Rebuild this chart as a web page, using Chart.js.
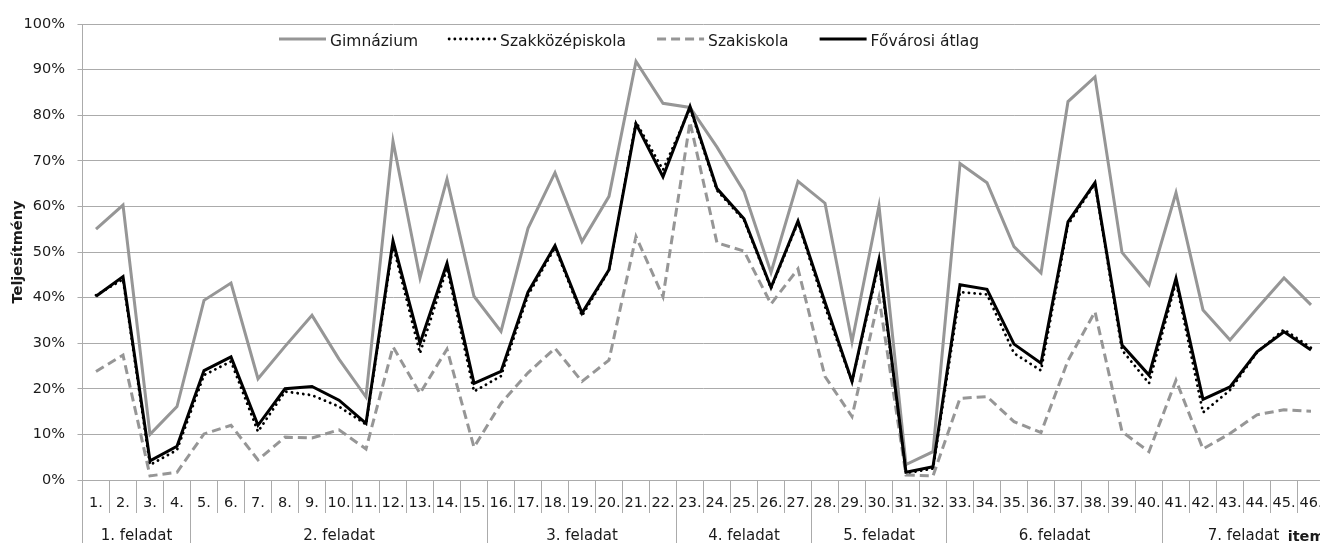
<!DOCTYPE html>
<html>
<head>
<meta charset="utf-8">
<script src="https://cdn.jsdelivr.net/npm/chart.js@4.4.1/dist/chart.umd.min.js"></script>
<style>
  html, body { margin: 0; padding: 0; background: #ffffff; overflow: hidden; }
  body { width: 1320px; height: 543px; }
  #wrap { width: 1326px; height: 543px; position: relative; }
</style>
</head>
<body>
<div id="wrap"><canvas id="c"></canvas></div>
<script>
// ---- data ----
const itemLabels = ['1.','2.','3.','4.','5.','6.','7.','8.','9.','10.','11.','12.','13.','14.','15.','16.','17.','18.','19.','20.','21.','22.','23.','24.','25.','26.','27.','28.','29.','30.','31.','32.','33.','34.','35.','36.','37.','38.','39.','40.','41.','42.','43.','44.','45.','46.'];
const groupLabels = ['1. feladat','2. feladat','3. feladat','4. feladat','5. feladat','6. feladat','7. feladat'];
const groupSizes = [4, 11, 7, 5, 5, 8, 6];
const seriesNames = ['Gimnázium','Szakközépiskola','Szakiskola','Fővárosi átlag'];
const gimnazium = [55, 60.3, 10, 16.1, 39.4, 43.2, 22.2, 29.3, 36.1, 26.5, 18.2, 74.3, 44.3, 66, 40.3, 32.6, 55.2, 67.4, 52.3, 62.2, 91.8, 82.6, 81.7, 73, 63.3, 45.5, 65.5, 60.7, 30.3, 60.1, 3.4, 6.2, 69.4, 65.2, 51.2, 45.4, 83, 88.4, 49.9, 42.8, 63, 37.3, 30.7, 37.6, 44.3, 38.4];
const szakkozep = [40.5, 44, 3.3, 6.6, 23, 26, 10.6, 19.4, 18.6, 16.1, 12.2, 51.5, 27.8, 46.5, 19.4, 22.8, 40.5, 51, 36, 46, 78.5, 68, 81.5, 63.5, 57, 42, 56.5, 38, 21.5, 47.5, 1.5, 2.5, 41.2, 40.7, 27.8, 24, 56, 65, 28.5, 21.2, 43.5, 14.8, 19.7, 28, 33, 29];
const szakiskola = [23.8, 27.4, 0.9, 1.7, 10.1, 12, 4.4, 9.4, 9.2, 11, 6.8, 29.2, 19, 28.7, 7.2, 16.8, 23.5, 28.9, 21.6, 26.3, 53.4, 40.2, 78.5, 52, 50.2, 38.6, 46.3, 22.7, 13.9, 40, 1.1, 0.9, 17.9, 18.3, 12.8, 10.4, 26.2, 36.9, 10.6, 6.2, 21.9, 6.8, 10.2, 14.3, 15.4, 15.1];
const fovarosi = [40.3, 44.6, 4.2, 7.4, 24, 27, 12, 20, 20.5, 17.5, 12.4, 52.4, 30, 47.5, 21.2, 23.8, 41.2, 51.4, 36.6, 46.1, 78.1, 66.5, 81.9, 63.9, 57.3, 42.2, 56.8, 39, 21.6, 48.3, 1.7, 2.9, 42.8, 41.8, 29.8, 25.6, 56.6, 65.2, 29.6, 23, 44.2, 17.7, 20.4, 28.1, 32.5, 28.5];

const FONT = "'DejaVu Sans', 'Liberation Sans', sans-serif";
const TEXT = '#1a1a1a';
const GRID = '#ababab';

const legendPlugin = {
  id: 'manualLegend',
  afterDraw(chart, args, opts) {
    const ctx = chart.ctx;
    ctx.save();
    ctx.font = opts.font;
    ctx.textBaseline = 'alphabetic';
    ctx.textAlign = 'left';
    let x = opts.x;
    chart.data.datasets.forEach(ds => {
      ctx.beginPath();
      ctx.strokeStyle = ds.borderColor;
      ctx.lineWidth = ds.borderWidth;
      ctx.lineCap = ds.borderCapStyle || 'butt';
      ctx.setLineDash(ds.borderDash || []);
      ctx.moveTo(x, opts.lineY);
      ctx.lineTo(x + opts.sample, opts.lineY);
      ctx.stroke();
      ctx.setLineDash([]);
      x += opts.sample + opts.gap;
      ctx.fillStyle = opts.color;
      ctx.fillText(ds.label, x, opts.textY);
      x += ctx.measureText(ds.label).width + opts.spacing;
    });
    ctx.restore();
  }
};

const groupPlugin = {
  id: 'groups',
  afterDraw(chart, args, opts) {
    const xs = chart.scales.x;
    const ctx = chart.ctx;
    const top = chart.chartArea.bottom;
    const bottom = chart.height;
    ctx.save();
    ctx.strokeStyle = opts.lineColor;
    ctx.lineWidth = 1;
    ctx.font = opts.font;
    ctx.fillStyle = opts.color;
    ctx.textAlign = 'center';
    ctx.textBaseline = 'alphabetic';
    let start = 0;
    groupSizes.forEach((n, gi) => {
      const end = start + n - 1;
      const left = start === 0 ? chart.chartArea.left
        : (xs.getPixelForValue(start - 1) + xs.getPixelForValue(start)) / 2;
      const lx = Math.round(left - 0.5) + 0.5;
      ctx.beginPath();
      ctx.moveTo(lx, top);
      ctx.lineTo(lx, bottom);
      ctx.stroke();
      const cx = (xs.getPixelForValue(start) + xs.getPixelForValue(end)) / 2;
      ctx.fillText(groupLabels[gi], cx, opts.textY);
      start += n;
    });
    ctx.restore();
  }
};

new Chart(document.getElementById('c'), {
  type: 'line',
  data: {
    labels: itemLabels,
    datasets: [
      { label: seriesNames[0], data: gimnazium, borderColor: '#969696', borderWidth: 3, order: 3 },
      { label: seriesNames[1], data: szakkozep, borderColor: '#000000', borderWidth: 2.8, borderDash: [0.1, 5.6], borderCapStyle: 'round', order: 2 },
      { label: seriesNames[2], data: szakiskola, borderColor: '#969696', borderWidth: 3, borderDash: [9, 5], order: 1 },
      { label: seriesNames[3], data: fovarosi, borderColor: '#000000', borderWidth: 3, order: 0 }
    ]
  },
  options: {
    responsive: true,
    maintainAspectRatio: false,
    animation: false,
    devicePixelRatio: 1,
    elements: { point: { radius: 0, hoverRadius: 0 }, line: { tension: 0, fill: false } },
    layout: { padding: { top: 24, right: 1.5, bottom: 0, left: 0 } },
    plugins: {
      legend: { display: false },
      tooltip: { enabled: false },
      manualLegend: { x: 279, lineY: 39, textY: 46, sample: 47, gap: 4, spacing: 31, font: "15.5px " + FONT, color: TEXT },
      groups: { textY: 540, font: "15px " + FONT, color: TEXT, lineColor: GRID }
    },
    scales: {
      x: {
        type: 'category',
        offset: true,
        afterFit: s => { s.height = 63; },
        grid: { display: true, offset: true, drawOnChartArea: false, drawTicks: true, tickLength: 33, color: GRID, lineWidth: 1 },
        border: { display: true, color: GRID, width: 1 },
        ticks: { autoSkip: false, maxRotation: 0, minRotation: 0, padding: -18.5, color: TEXT, font: { family: FONT, size: 14.5 } },
        title: { display: true, text: 'item', align: 'end', color: TEXT, font: { family: FONT, size: 14.5, weight: 'bold', lineHeight: 1.2 }, padding: { top: 0, bottom: -3 } }
      },
      y: {
        min: 0,
        max: 100,
        afterFit: s => { s.width = 82.5; },
        grid: { color: GRID, lineWidth: 1, tickLength: 5, drawTicks: true },
        border: { display: true, color: GRID, width: 1 },
        ticks: { stepSize: 10, padding: 12.5, color: TEXT, font: { family: FONT, size: 14.5 }, callback: v => v + '%' },
        title: { display: true, text: 'Teljesítmény', color: TEXT, font: { family: FONT, size: 14.5, weight: 'bold', lineHeight: 1.2 }, padding: { top: 9.8, bottom: 0 } }
      }
    }
  },
  plugins: [legendPlugin, groupPlugin]
});
</script>
</body>
</html>
